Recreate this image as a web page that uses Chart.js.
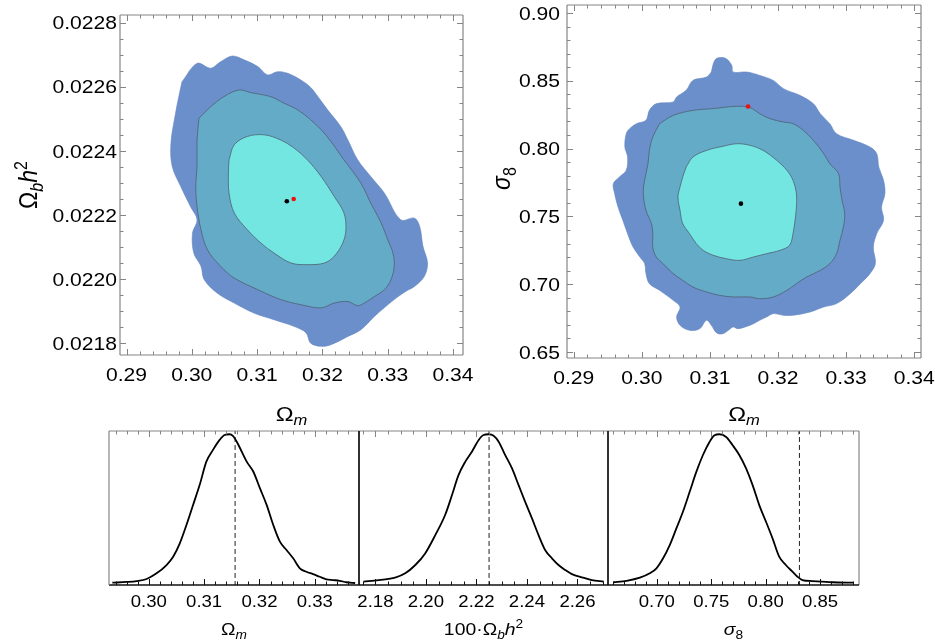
<!DOCTYPE html>
<html>
<head>
<meta charset="utf-8">
<title>Omega_m / Omega_b h^2 / sigma_8 posteriors</title>
<script src="https://cdn.jsdelivr.net/npm/chart.js@4.4.1/dist/chart.umd.min.js"></script>
<style>
  html, body { margin: 0; padding: 0; background: #fff; }
  #page { position: relative; width: 935px; height: 644px; overflow: hidden; }
  #page canvas { position: absolute; }
</style>
</head>
<body>
<div id="page">
  <canvas id="omOb" width="490" height="430" style="left:0;top:0"></canvas>
  <canvas id="omS8" width="465" height="430" style="left:470px;top:0"></canvas>
  <canvas id="pOm" width="290" height="219" style="left:89px;top:425px"></canvas>
  <canvas id="pOb" width="289" height="219" style="left:339px;top:425px"></canvas>
  <canvas id="pS8" width="291" height="219" style="left:588px;top:425px"></canvas>
</div>
<script>
// best fit and Planck fiducial values
const bestOm = 0.31455, bestOb = 0.022243, bestS8 = 0.7594;
const planckOm = 0.3156, planckOb = 0.02225, planckS8 = 0.831;

// Omega_m - Omega_b h^2 confidence regions (outer, middle, inner)
const obOuter = [[0.2985,0.022616],[0.3008,0.022673],[0.3029,0.022658],[0.3044,0.022678],[0.3062,0.022696],[0.3080,0.022684],
  [0.3101,0.022663],[0.3116,0.022637],[0.3131,0.022647],[0.3147,0.022642],[0.3167,0.022621],[0.3182,0.022598],[0.3195,0.022564],
  [0.3208,0.022528],[0.3228,0.022476],[0.3239,0.022434],[0.3254,0.022372],[0.3274,0.022320],[0.3295,0.022268],[0.3320,0.022185],
  [0.3341,0.022190],[0.3349,0.022164],[0.3354,0.022102],[0.3361,0.022050],[0.3356,0.022008],[0.3341,0.021977],[0.3328,0.021962],
  [0.3310,0.021936],[0.3280,0.021884],[0.3259,0.021842],[0.3239,0.021821],[0.3213,0.021795],[0.3198,0.021790],[0.3182,0.021800],
  [0.3175,0.021832],[0.3157,0.021852],[0.3126,0.021873],[0.3095,0.021894],[0.3065,0.021925],[0.3039,0.021956],[0.3019,0.021998],
  [0.3014,0.022040],[0.3003,0.022081],[0.3001,0.022143],[0.3008,0.022185],[0.2998,0.022226],[0.2983,0.022289],[0.2970,0.022351],
  [0.2968,0.022424],[0.2975,0.022517],[0.2980,0.022569]];
const obMid = [[0.3011,0.022502],[0.3029,0.022538],[0.3049,0.022569],[0.3072,0.022590],[0.3090,0.022582],[0.3121,0.022569],
  [0.3141,0.022549],[0.3162,0.022528],[0.3182,0.022497],[0.3205,0.022450],[0.3233,0.022372],[0.3259,0.022299],[0.3274,0.022237],
  [0.3290,0.022175],[0.3300,0.022123],[0.3308,0.022081],[0.3310,0.022040],[0.3305,0.021998],[0.3295,0.021967],[0.3280,0.021946],
  [0.3264,0.021925],[0.3254,0.021917],[0.3239,0.021930],[0.3218,0.021925],[0.3198,0.021910],[0.3167,0.021920],[0.3136,0.021936],
  [0.3101,0.021967],[0.3065,0.022003],[0.3044,0.022040],[0.3024,0.022091],[0.3014,0.022154],[0.3008,0.022226],[0.3006,0.022289],
  [0.3008,0.022351],[0.3008,0.022434]];
const obInner = [[0.3057,0.022372],[0.3065,0.022419],[0.3085,0.022445],[0.3111,0.022450],[0.3136,0.022434],[0.3157,0.022408],
  [0.3177,0.022372],[0.3198,0.022320],[0.3218,0.022258],[0.3233,0.022206],[0.3236,0.022154],[0.3231,0.022112],[0.3218,0.022071],
  [0.3203,0.022050],[0.3177,0.022045],[0.3152,0.022050],[0.3126,0.022081],[0.3106,0.022112],[0.3085,0.022154],[0.3065,0.022206],
  [0.3057,0.022268],[0.3056,0.022331]];

// Omega_m - sigma_8 confidence regions
const s8Outer = [[0.3102,0.8565],[0.3107,0.8651],[0.3114,0.8671],[0.3124,0.8663],[0.3132,0.8614],[0.3134,0.8565],[0.3154,0.8565],
  [0.3173,0.8540],[0.3193,0.8503],[0.3208,0.8442],[0.3232,0.8393],[0.3252,0.8331],[0.3262,0.8258],[0.3276,0.8184],[0.3286,0.8110],
  [0.3311,0.8061],[0.3335,0.8012],[0.3345,0.7963],[0.3348,0.7864],[0.3355,0.7766],[0.3357,0.7668],[0.3352,0.7569],[0.3355,0.7471],
  [0.3345,0.7373],[0.3340,0.7274],[0.3343,0.7152],[0.3335,0.7078],[0.3321,0.7004],[0.3306,0.6930],[0.3286,0.6857],[0.3267,0.6832],
  [0.3247,0.6795],[0.3222,0.6771],[0.3208,0.6771],[0.3193,0.6783],[0.3183,0.6758],[0.3173,0.6734],[0.3164,0.6709],[0.3154,0.6689],
  [0.3141,0.6672],[0.3134,0.6685],[0.3127,0.6660],[0.3119,0.6635],[0.3110,0.6640],[0.3102,0.6697],[0.3095,0.6734],[0.3085,0.6672],
  [0.3070,0.6660],[0.3056,0.6697],[0.3051,0.6758],[0.3056,0.6832],[0.3046,0.6881],[0.3026,0.6955],[0.3011,0.7004],[0.3006,0.7078],
  [0.3004,0.7152],[0.2997,0.7201],[0.2987,0.7274],[0.2979,0.7373],[0.2972,0.7471],[0.2965,0.7569],[0.2960,0.7668],[0.2958,0.7741],
  [0.2967,0.7791],[0.2977,0.7840],[0.2979,0.7938],[0.2975,0.8012],[0.2977,0.8110],[0.2982,0.8147],[0.2992,0.8184],[0.3006,0.8209],
  [0.3011,0.8282],[0.3021,0.8331],[0.3046,0.8344],[0.3051,0.8381],[0.3065,0.8430],[0.3075,0.8503],[0.3095,0.8528]];
const s8Mid = [[0.3026,0.8184],[0.3046,0.8245],[0.3075,0.8282],[0.3105,0.8295],[0.3139,0.8312],[0.3159,0.8302],[0.3173,0.8258],
  [0.3188,0.8221],[0.3208,0.8196],[0.3222,0.8184],[0.3237,0.8135],[0.3252,0.8061],[0.3267,0.7963],[0.3276,0.7889],[0.3289,0.7815],
  [0.3291,0.7717],[0.3294,0.7619],[0.3298,0.7520],[0.3296,0.7422],[0.3291,0.7324],[0.3286,0.7225],[0.3276,0.7152],[0.3262,0.7102],
  [0.3242,0.7053],[0.3227,0.7004],[0.3213,0.6955],[0.3193,0.6906],[0.3173,0.6893],[0.3159,0.6906],[0.3134,0.6906],[0.3114,0.6918],
  [0.3095,0.6943],[0.3075,0.6979],[0.3060,0.7029],[0.3046,0.7078],[0.3031,0.7152],[0.3021,0.7201],[0.3016,0.7274],[0.3016,0.7373],
  [0.3014,0.7447],[0.3006,0.7545],[0.3002,0.7668],[0.3004,0.7766],[0.3009,0.7889],[0.3011,0.7987],[0.3016,0.8086]];
const s8Inner = [[0.3065,0.7864],[0.3075,0.7938],[0.3095,0.7987],[0.3119,0.8017],[0.3139,0.8036],[0.3159,0.8024],[0.3178,0.7987],
  [0.3198,0.7914],[0.3213,0.7840],[0.3222,0.7766],[0.3227,0.7668],[0.3227,0.7569],[0.3225,0.7471],[0.3222,0.7373],[0.3217,0.7287],
  [0.3203,0.7250],[0.3183,0.7225],[0.3164,0.7201],[0.3144,0.7176],[0.3124,0.7188],[0.3105,0.7213],[0.3090,0.7250],[0.3080,0.7299],
  [0.3070,0.7373],[0.3060,0.7447],[0.3056,0.7545],[0.3053,0.7643],[0.3056,0.7717],[0.3060,0.7791]];

// 1D marginalised posteriors (normalised to the peak)
const omGrid = [0.2934,0.2960,0.2978,0.2996,0.3014,0.3032,0.3044,0.3056,0.3068,0.3080,0.3092,0.3104,0.3116,0.3128,0.3137,0.3146,
  0.3152,0.3159,0.3168,0.3177,0.3189,0.3201,0.3213,0.3225,0.3237,0.3249,0.3261,0.3273,0.3285,0.3297,0.3309,0.3321,0.3333,0.3345,0.3357,0.3373];
const omProb = [0.002,0.007,0.013,0.027,0.065,0.121,0.177,0.267,0.390,0.525,0.660,0.816,0.895,0.962,0.995,1.000,
  0.989,0.950,0.883,0.816,0.748,0.636,0.525,0.390,0.278,0.222,0.166,0.099,0.076,0.060,0.042,0.025,0.020,0.015,0.005,0.000];
const obGrid = [2.1753,2.1813,2.1878,2.1918,2.1958,2.1997,2.2037,2.2076,2.2103,2.2129,2.2156,2.2182,2.2209,2.2228,2.2248,2.2268,
  2.2288,2.2314,2.2341,2.2367,2.2393,2.2420,2.2446,2.2472,2.2499,2.2525,2.2552,2.2578,2.2618,2.2657,2.2704];
const obProb = [0.009,0.020,0.036,0.065,0.121,0.199,0.322,0.457,0.590,0.725,0.816,0.883,0.962,0.995,1.000,0.990,
  0.950,0.860,0.770,0.658,0.546,0.434,0.322,0.222,0.166,0.121,0.087,0.060,0.038,0.020,0.009];
const s8Grid = [0.6601,0.6723,0.6845,0.6936,0.6997,0.7058,0.7119,0.7180,0.7240,0.7302,0.7363,0.7423,0.7484,0.7530,0.7576,0.7637,
  0.7697,0.7759,0.7820,0.7880,0.7941,0.8003,0.8063,0.8124,0.8185,0.8246,0.8292,0.8337,0.8429,0.8611,0.8810];
const s8Prob = [0.005,0.015,0.036,0.065,0.099,0.166,0.255,0.367,0.479,0.613,0.747,0.859,0.948,0.993,1.000,0.982,
  0.926,0.859,0.770,0.658,0.524,0.412,0.300,0.177,0.121,0.076,0.042,0.020,0.013,0.005,0.002];

// tick positions and labels
const omTicks = [0.29, 0.30, 0.31, 0.32, 0.33, 0.34];
const omLabels = ['0.29', '0.30', '0.31', '0.32', '0.33', '0.34'];
const obTicks = [0.0218, 0.0220, 0.0222, 0.0224, 0.0226, 0.0228];
const obLabels = ['0.0218', '0.0220', '0.0222', '0.0224', '0.0226', '0.0228'];
const s8Ticks = [0.65, 0.70, 0.75, 0.80, 0.85, 0.90];
const s8Labels = ['0.65', '0.70', '0.75', '0.80', '0.85', '0.90'];
const omTicks1d = [0.30, 0.31, 0.32, 0.33];
const omLabels1d = ['0.30', '0.31', '0.32', '0.33'];
const ob100Ticks = [2.18, 2.20, 2.22, 2.24, 2.26];
const ob100Labels = ['2.18', '2.20', '2.22', '2.24', '2.26'];
const s8Ticks1d = [0.70, 0.75, 0.80, 0.85];
const s8Labels1d = ['0.70', '0.75', '0.80', '0.85'];

const FAMILY = '"Liberation Sans", Arial, sans-serif';
const STRETCH = 1.14;   // the fonts in this figure are set a little wide
const GRAY = '#858585';
const colOuter = '#6a8fcb', colMid = '#64abc8', colInner = '#73e6e2', colEdge = '#4f6072';

// draw a run of text pieces (sub/superscripts via size + dy), centred on y
function drawRuns(ctx, runs, x, y, align, rotate) {
  ctx.save();
  ctx.translate(x, y);
  ctx.scale(STRETCH, 1);
  if (rotate) ctx.rotate(-Math.PI / 2);
  ctx.fillStyle = '#000';
  ctx.textBaseline = 'alphabetic';
  ctx.textAlign = 'left';
  const fontOf = r => `${r.i ? 'italic ' : ''}${r.s}px ${FAMILY}`;
  const widths = runs.map(r => { ctx.font = fontOf(r); return ctx.measureText(r.t).width + (r.gap || 0); });
  const total = widths.reduce((a, b) => a + b, 0);
  let cx = align === 'right' ? -total : align === 'left' ? 0 : -total / 2;
  const base = 0.36 * runs[0].s;
  runs.forEach((r, k) => {
    ctx.font = fontOf(r);
    ctx.fillText(r.t, cx, base + (r.dy || 0));
    cx += widths[k];
  });
  ctx.restore();
}

function minorValues(min, max, step, majors) {
  const out = [];
  for (let k = Math.ceil(min / step - 1e-6); k * step <= max + 1e-9; k++) {
    const v = k * step;
    if (!majors.some(m => Math.abs(m - v) < step * 0.05)) out.push(v);
  }
  return out;
}

// Mathematica-like frame: inward ticks, labels and axis titles
const framePlugin = {
  id: 'frame',
  afterDatasetsDraw(chart, args, o) {
    const {ctx, chartArea: a} = chart;
    const xs = chart.scales.x, ys = chart.scales.y;
    const edge = Object.assign({top: GRAY, right: GRAY, bottom: GRAY, left: GRAY}, o.edges);
    const seg = (x1, y1, x2, y2, c, w) => {
      ctx.strokeStyle = c; ctx.lineWidth = w;
      ctx.beginPath(); ctx.moveTo(x1, y1); ctx.lineTo(x2, y2); ctx.stroke();
    };
    ctx.save();
    const inX = v => v >= xs.min && v <= xs.max;
    const inY = v => v >= ys.min && v <= ys.max;
    const xTick = (v, len) => {
      const px = Math.round(xs.getPixelForValue(v)) + 0.5;
      seg(px, a.bottom, px, a.bottom - len, edge.bottom, 1);
      seg(px, a.top, px, a.top + len, edge.top, 1);
    };
    const yTick = (v, len) => {
      const py = Math.round(ys.getPixelForValue(v)) + 0.5;
      seg(a.left, py, a.left + len, py, edge.left, 1);
      seg(a.right, py, a.right - len, py, edge.right, 1);
    };
    o.xMajor.filter(inX).forEach(v => xTick(v, 6));
    minorValues(xs.min, xs.max, o.xMinor, o.xMajor).forEach(v => xTick(v, 3.5));
    if (o.yMajor) {
      o.yMajor.filter(inY).forEach(v => yTick(v, 6));
      minorValues(ys.min, ys.max, o.yMinor, o.yMajor).forEach(v => yTick(v, 3.5));
    }
    seg(a.left, a.top, a.right, a.top, edge.top, 1.2);
    seg(a.right, a.top, a.right, a.bottom, edge.right, 1.2);
    seg(a.left, a.bottom, a.right, a.bottom, edge.bottom, o.bottomWidth || 1.2);
    seg(a.left, a.top, a.left, a.bottom, edge.left, o.leftWidth || 1.2);

    o.xMajor.forEach((v, k) => {
      if (inX(v)) drawRuns(ctx, [{t: o.xLabels[k], s: o.tickSize}], xs.getPixelForValue(v), a.bottom + o.xLabelGap, 'center');
    });
    if (o.yMajor) {
      o.yMajor.forEach((v, k) => {
        if (inY(v)) drawRuns(ctx, [{t: o.yLabels[k], s: o.tickSize}], a.left - o.yLabelGap, ys.getPixelForValue(v), 'right');
      });
    }
    if (o.xTitle) drawRuns(ctx, o.xTitle, (a.left + a.right) / 2, a.bottom + o.xTitleGap, 'center');
    if (o.yTitle) drawRuns(ctx, o.yTitle, o.yTitleX, (a.top + a.bottom) / 2 + (o.yTitleDy || 0), 'center', true);
    ctx.restore();
  }
};

const asPoints = arr => arr.map(p => ({x: p[0], y: p[1]}));
const ring = arr => asPoints(arr.concat([arr[0]]));
const curve = (xs, ys) => xs.map((x, k) => ({x: x, y: ys[k]}));

function region(arr, fill, edge, width) {
  return {
    data: ring(arr), showLine: true, fill: 'shape', tension: 0.35,
    backgroundColor: fill, borderColor: edge, borderWidth: width, pointRadius: 0
  };
}

function baseOptions(xRange, yRange, padding, frame) {
  return {
    responsive: false,
    animation: false,
    devicePixelRatio: 1,
    layout: {padding: padding},
    plugins: {legend: {display: false}, tooltip: {enabled: false}, frame: frame},
    scales: {
      x: {type: 'linear', display: false, min: xRange[0], max: xRange[1]},
      y: {type: 'linear', display: false, min: yRange[0], max: yRange[1]}
    }
  };
}

const omTitleTop = [{t: 'Ω', s: 21}, {t: 'm', s: 14.5, i: true, dy: 4.5}];

// Omega_m vs Omega_b h^2
new Chart(document.getElementById('omOb'), {
  type: 'scatter',
  data: {
    datasets: [
      {data: [{x: bestOm, y: bestOb}, {x: planckOm, y: planckOb}], pointRadius: 2.3, pointBorderWidth: 0,
       backgroundColor: ['#000', '#ee1111']},
      region(obInner, colInner, colEdge, 0.8),
      region(obMid, colMid, colEdge, 0.8),
      region(obOuter, colOuter, '#6384c0', 0.6)
    ]
  },
  options: baseOptions([0.2890, 0.34153], [0.021763, 0.022824], {left: 120, right: 27, top: 15, bottom: 75}, {
    xMajor: omTicks, xLabels: omLabels, xMinor: 0.002,
    yMajor: obTicks, yLabels: obLabels, yMinor: 0.00005,
    tickSize: 18.5, xLabelGap: 19, yLabelGap: 3,
    xTitle: omTitleTop, xTitleGap: 58,
    yTitle: [{t: 'Ω', s: 23}, {t: 'b', s: 16, i: true, dy: 5}, {t: 'h', s: 23, i: true}, {t: '2', s: 16, dy: -9}],
    yTitleX: 28
  }),
  plugins: [framePlugin]
});

// Omega_m vs sigma_8
new Chart(document.getElementById('omS8'), {
  type: 'scatter',
  data: {
    datasets: [
      {data: [{x: bestOm, y: bestS8}, {x: planckOm, y: planckS8}], pointRadius: 2.3, pointBorderWidth: 0,
       backgroundColor: ['#000', '#ee1111']},
      region(s8Inner, colInner, colEdge, 0.8),
      region(s8Mid, colMid, colEdge, 0.8),
      region(s8Outer, colOuter, '#6384c0', 0.6)
    ]
  },
  options: baseOptions([0.2890, 0.3410], [0.6456, 0.9059], {left: 97, right: 14, top: 5, bottom: 72}, {
    xMajor: omTicks, xLabels: omLabels, xMinor: 0.002,
    yMajor: s8Ticks, yLabels: s8Labels, yMinor: 0.01,
    tickSize: 18.5, xLabelGap: 19, yLabelGap: 7,
    xTitle: omTitleTop, xTitleGap: 55,
    yTitle: [{t: 'σ', s: 23, i: true}, {t: '8', s: 16, dy: 5}],
    yTitleX: 31, yTitleDy: -3
  }),
  plugins: [framePlugin]
});

// 1D panels
function posterior(id, grid, prob, fiducial, xRange, ticks, labels, minor, title, leftEdge) {
  new Chart(document.getElementById(id), {
    type: 'scatter',
    data: {
      datasets: [
        {data: curve(grid, prob), showLine: true, borderColor: '#000', borderWidth: 1.8,
         pointRadius: 0, cubicInterpolationMode: 'monotone'},
        {data: [{x: fiducial, y: -0.02}, {x: fiducial, y: 1.05}], showLine: true, borderColor: '#222',
         borderWidth: 1, borderDash: [5, 3], pointRadius: 0}
      ]
    },
    options: baseOptions(xRange, [-0.0134, 1.022], {left: 20, right: 20, top: 6, bottom: 59}, {
      xMajor: ticks, xLabels: labels, xMinor: minor,
      tickSize: 16.3, xLabelGap: 16,
      xTitle: title, xTitleGap: 44,
      edges: {bottom: '#111', left: leftEdge}, bottomWidth: 1.5, leftWidth: leftEdge === GRAY ? 1.2 : 1.6
    }),
    plugins: [framePlugin]
  });
}

posterior('pOm', omGrid, omProb, planckOm, [0.2928, 0.3380], omTicks1d, omLabels1d, 0.002,
  [{t: 'Ω', s: 17}, {t: 'm', s: 12, i: true, dy: 3.5}], GRAY);
posterior('pOb', obGrid, obProb, 100 * planckOb, [2.1735, 2.2721], ob100Ticks, ob100Labels, 0.005,
  [{t: '100·Ω', s: 17}, {t: 'b', s: 12, i: true, dy: 3.5}, {t: 'h', s: 17, i: true}, {t: '2', s: 12, dy: -7}], '#111');
posterior('pS8', s8Grid, s8Prob, planckS8, [0.6552, 0.8857], s8Ticks1d, s8Labels1d, 0.01,
  [{t: 'σ', s: 17, i: true}, {t: '8', s: 12, dy: 3.5}], '#111');
</script>
</body>
</html>
